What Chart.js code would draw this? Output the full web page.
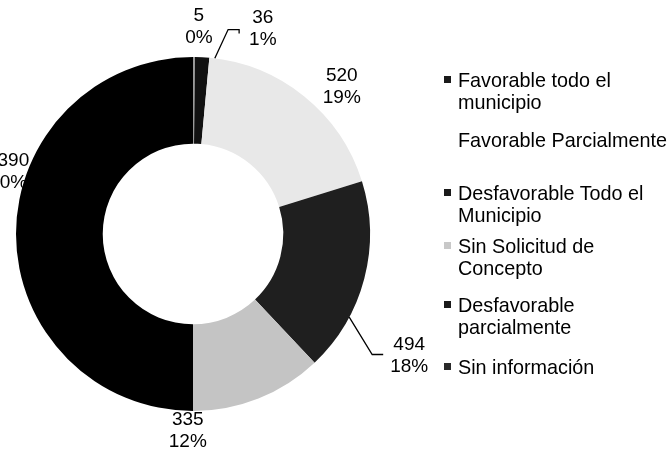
<!DOCTYPE html>
<html>
<head>
<meta charset="utf-8">
<script src="https://cdn.jsdelivr.net/npm/chart.js@4/dist/chart.umd.min.js"></script>
<style>
  html, body { margin: 0; padding: 0; background: #fff; }
  #wrap { position: relative; width: 668px; height: 452px; overflow: hidden; }
  #legend { position: absolute; left: 0; top: 0; width: 668px; height: 452px; pointer-events: none;
            font-family: "Liberation Sans", Arial, sans-serif; font-size: 19.8px; line-height: 22px; color: #000; }
  .item { position: absolute; left: 458px; white-space: nowrap; }
  .box { position: absolute; left: -14px; top: 7px; width: 7px; height: 7px; }
</style>
</head>
<body>
<div id="wrap">
  <canvas id="chart" width="668" height="452"></canvas>
  <div id="legend"></div>
</div>
<script>
// categories, legend text split the way it wraps in the picture
const labels = [
  ['Favorable todo el', 'municipio'],
  ['Favorable Parcialmente'],
  ['Desfavorable Todo el', 'Municipio'],
  ['Sin Solicitud de', 'Concepto'],
  ['Desfavorable', 'parcialmente'],
  ['Sin información']
];
const values = [5, 36, 520, 494, 335, 1390];

// styling
const sliceColors = ['#9a9a9a', '#111111', '#e8e8e8', '#1f1f1f', '#c4c4c4', '#000000'];
const legendColors = ['#1a1a1a', 'transparent', '#1a1a1a', '#c8c8c8', '#1a1a1a', '#2a2a2a'];
const legendTops = [69, 129, 182, 235, 294, 356];   // top of first line of each entry
// label placement: angle shift from slice middle (deg) and distance outside the ring (px)
const labelShift = [1.3, 15.8, 6.4, 14.7, 23.2, 18.5];
const labelGap = [30, 40, 32, 71, 20, 18];
const leaders = { 1: { shift: 4.1, gap: 10, dy: 1, tick: true }, 3: { shift: 13.4, gap: 7, dy: -1 } };

const total = values.reduce((a, b) => a + b, 0);

const sliceLabels = {
  id: 'sliceLabels',
  afterDatasetsDraw(chart) {
    const ctx = chart.ctx;
    const meta = chart.getDatasetMeta(0);
    ctx.save();
    ctx.font = '19px "Liberation Sans", Arial, sans-serif';
    ctx.fillStyle = '#000';
    ctx.strokeStyle = '#000';
    ctx.lineWidth = 1.3;
    ctx.textAlign = 'center';
    ctx.textBaseline = 'middle';
    meta.data.forEach((arc, i) => {
      const p = arc.getProps(['x', 'y', 'startAngle', 'endAngle', 'outerRadius'], true);
      const mid = (p.startAngle + p.endAngle) / 2;
      const a = mid + labelShift[i] * Math.PI / 180;
      const r = p.outerRadius + labelGap[i];
      const lx = p.x + Math.cos(a) * r;
      const ly = p.y + Math.sin(a) * r;
      const v = String(values[i]);
      const pct = Math.round(values[i] / total * 100) + '%';
      ctx.fillText(v, lx, ly - 11);
      ctx.fillText(pct, lx, ly + 11);
      const lead = leaders[i];
      if (lead) {
        const ea = mid + lead.shift * Math.PI / 180;
        const ex = p.x + Math.cos(ea) * p.outerRadius;
        const ey = p.y + Math.sin(ea) * p.outerRadius;
        const w = Math.max(ctx.measureText(v).width, ctx.measureText(pct).width);
        const hx = lx - w / 2 - lead.gap;
        const hy = ly + lead.dy;
        ctx.beginPath();
        ctx.moveTo(ex, ey);
        ctx.lineTo(hx - 11, hy);
        ctx.lineTo(hx, hy);
        if (lead.tick) ctx.lineTo(hx, hy + 4);
        ctx.stroke();
      }
    });
    ctx.restore();
  }
};

new Chart(document.getElementById('chart'), {
  type: 'doughnut',
  data: {
    labels: labels.map(l => l.join(' ')),
    datasets: [{
      data: values,
      backgroundColor: sliceColors,
      borderWidth: 0
    }]
  },
  options: {
    responsive: false,
    animation: false,
    cutout: '51%',
    layout: { padding: { left: 16, top: 57, right: 298, bottom: 41 } },
    plugins: {
      legend: { display: false },
      tooltip: { enabled: false }
    }
  },
  plugins: [sliceLabels]
});

// legend
const legendEl = document.getElementById('legend');
labels.forEach((lines, i) => {
  const item = document.createElement('div');
  item.className = 'item';
  item.style.top = legendTops[i] + 'px';
  const box = document.createElement('span');
  box.className = 'box';
  box.style.background = legendColors[i];
  item.appendChild(box);
  lines.forEach((t, k) => {
    if (k) item.appendChild(document.createElement('br'));
    item.appendChild(document.createTextNode(t));
  });
  legendEl.appendChild(item);
});
</script>
</body>
</html>
